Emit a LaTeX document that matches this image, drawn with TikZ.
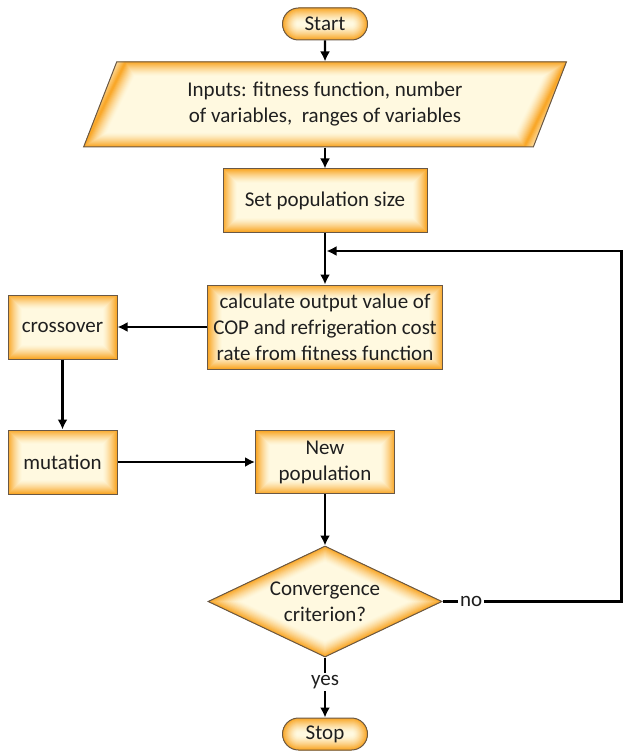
\documentclass[tikz,border=0pt]{standalone}
\usepackage{fontspec}
\setmainfont{Carlito}
\usetikzlibrary{shapes.geometric,calc,arrows.meta}

\definecolor{boxedge}{RGB}{249,168,42}
\definecolor{boxmid}{RGB}{255,249,224}
\definecolor{boxline}{RGB}{105,88,70}

\tikzset{
    % soft orange band inside the border of a shape
    glow/.style={path picture={
        \foreach \i [evaluate=\i as \w using 30-2*\i, evaluate=\i as \p using 100*(\i/14)^1.4] in {1,...,14}
            \draw[line width=\w pt, boxedge!\p!boxmid] #1;}},
    block/.style={draw=boxline, line width=1pt, fill=boxmid, text=black!88,
        align=center, inner sep=0pt,
        glow={(path picture bounding box.south west) rectangle (path picture bounding box.north east)}},
    term/.style={block, rounded corners=16pt, minimum width=85pt, minimum height=32pt,
        glow={[rounded corners=16pt] (path picture bounding box.south west) rectangle (path picture bounding box.north east)}},
    datain/.style={block, trapezium, trapezium left angle=63.7, trapezium right angle=116.3,
        trapezium stretches=true, minimum width=484pt, minimum height=85pt,
        glow={(path picture bounding box.south west) -- ($(path picture bounding box.south east)+(-42pt,0)$)
            -- (path picture bounding box.north east) -- ($(path picture bounding box.north west)+(42pt,0)$) -- cycle}},
    cond/.style={block, diamond, aspect=2, minimum width=234pt, minimum height=111pt,
        glow={(path picture bounding box.north) -- (path picture bounding box.east)
            -- (path picture bounding box.south) -- (path picture bounding box.west) -- cycle}},
    flow/.style={-{Latex[length=10pt,width=10pt]}, line width=2.4pt},
    lbl/.style={fill=white, inner sep=2pt, text=black!88}
}

\begin{document}
\begin{tikzpicture}[x=1pt, y=-1pt, font=\fontsize{21}{26}\selectfont]
    \useasboundingbox (0,0) rectangle (623,751);

    \node[term] (start) at (325,24) {Start};
    \node[datain] (inputs) at (325,104.5) {Inputs: fitness function, number\\of variables,\ \ ranges of variables};
    \node[block, minimum width=204pt, minimum height=63pt] (setpop) at (325,200.5) {Set population size};
    \node[block, minimum width=235pt, minimum height=84pt] (calc) at (325,327) {calculate output value of\\COP and refrigeration cost\\rate from fitness function};
    \node[block, minimum width=109pt, minimum height=64pt] (cross) at (62.5,327) {crossover};
    \node[block, minimum width=109pt, minimum height=64pt] (mut) at (62.5,462) {mutation};
    \node[block, minimum width=139pt, minimum height=63pt] (newpop) at (325,462) {New\\population};
    \node[cond] (conv) at (325,601.5) {Convergence\\criterion?};
    \node[term] (stop) at (325,734) {Stop};

    \coordinate (back) at (621.5,251);
    \coordinate (join) at (326.5,251);

    \draw[flow] (start) -- (inputs);
    \draw[flow] (inputs) -- (setpop);
    \draw[flow] (setpop) -- (calc);
    \draw[flow] (calc) -- (cross);
    \draw[flow] (cross) -- (mut);
    \draw[flow] (mut) -- (newpop);
    \draw[flow] (newpop) -- (conv);
    \draw[flow] (conv.south) -- node[lbl, pos=0.41] {yes} (stop);
    % back to the fitness evaluation
    \draw[flow] (conv.east) -- node[lbl, pos=0.16] {no} (conv.east -| back) -- (back) -- (join);
\end{tikzpicture}
\end{document}
